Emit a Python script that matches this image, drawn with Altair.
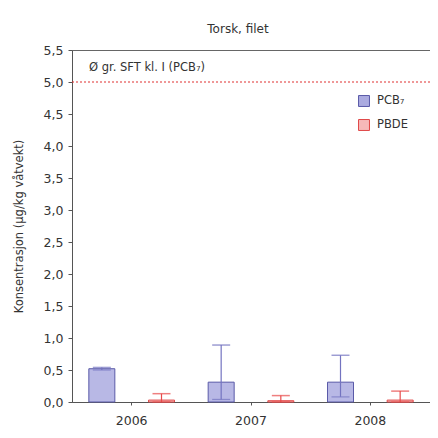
import altair as alt
import pandas as pd

years = ["2006", "2007", "2008"]
series = ["PCB₇", "PBDE"]
pcb = [0.52, 0.31, 0.31]
pcb_lo = [0.50, 0.04, 0.08]
pcb_hi = [0.54, 0.89, 0.73]
pbde = [0.03, 0.02, 0.03]
pbde_lo = [0.00, 0.00, 0.00]
pbde_hi = [0.13, 0.10, 0.17]
y_ticks = [0, 0.5, 1, 1.5, 2, 2.5, 3, 3.5, 4, 4.5, 5, 5.5]
limit = 5.0

rows = []
for i, y in enumerate(years):
    rows.append({"year": y, "series": series[0], "value": pcb[i], "lo": pcb_lo[i], "hi": pcb_hi[i]})
    rows.append({"year": y, "series": series[1], "value": pbde[i], "lo": pbde_lo[i], "hi": pbde_hi[i]})
df = pd.DataFrame(rows)

FONT = "DejaVu Sans"
fill_scale = alt.Scale(domain=series, range=["#ababe0", "#f6b9b9"])
stroke_scale = alt.Scale(domain=series, range=["#5a5aa8", "#e04848"])
err_scale = alt.Scale(domain=series, range=["#7373c0", "#e84a4a"])

legend = alt.Legend(title=None, orient="none", legendX=286, legendY=45, symbolType="square",
                    symbolSize=120, labelFontSize=11.5, labelColor="#333", rowPadding=8,
                    labelFont=FONT, symbolStrokeWidth=1, labelOffset=7)

x_enc = alt.X("year:N", scale=alt.Scale(paddingInner=0, paddingOuter=0),
              axis=alt.Axis(title=None, labelAngle=0, labelFontSize=12.5, labelColor="#333",
                            labelPadding=9, tickSize=3, tickColor="#555", domainColor="#555",
                            labelFont=FONT))
xo_enc = alt.XOffset("series:N", sort=series, scale=alt.Scale(paddingInner=0, paddingOuter=0))
y_scale = alt.Scale(domain=[0, 5.5], nice=False)
y_axis = alt.Axis(values=y_ticks, title="Konsentrasjon (µg/kg våtvekt)",
                  labelExpr="replace(format(datum.value, '.1f'), '.', ',')",
                  labelOverlap=False, grid=False, labelFontSize=12.5, labelColor="#333",
                  tickSize=4, tickColor="#555", domainColor="#555", labelPadding=5,
                  titleFontSize=11.5, titleFontWeight="normal", titleColor="#333",
                  titlePadding=19, labelFont=FONT, titleFont=FONT)

base = alt.Chart(df).encode(x=x_enc, xOffset=xo_enc)

bars = base.mark_bar(width=26, strokeWidth=1, fillOpacity=0.85).encode(
    y=alt.Y("value:Q", scale=y_scale, axis=y_axis),
    fill=alt.Fill("series:N", scale=fill_scale, sort=series, legend=legend),
    stroke=alt.Stroke("series:N", scale=stroke_scale, sort=series, legend=legend),
)

whisk = base.mark_rule(strokeWidth=1.2).encode(
    y=alt.Y("lo:Q", scale=y_scale, axis=y_axis),
    y2="hi:Q",
    color=alt.Color("series:N", scale=err_scale, legend=None),
)
caps_hi = base.mark_tick(thickness=1.5, size=18).encode(
    y=alt.Y("hi:Q", scale=y_scale, axis=y_axis),
    color=alt.Color("series:N", scale=err_scale, legend=None),
)
caps_lo = base.mark_tick(thickness=1.2, size=18).encode(
    y=alt.Y("lo:Q", scale=y_scale, axis=y_axis),
    color=alt.Color("series:N", scale=err_scale, legend=None),
)

ref = alt.Chart(pd.DataFrame({"v": [limit]})).mark_rule(
    color="#e03030", strokeDash=[2, 2], strokeWidth=1.2
).encode(y=alt.Y("v:Q", scale=y_scale, axis=y_axis))

ref_text = alt.Chart(pd.DataFrame({"v": [5.22], "t": ["Ø gr. SFT kl. I (PCB₇)"]})).mark_text(
    align="left", baseline="middle", fontSize=11.5, color="#333", font=FONT
).encode(x=alt.value(17), y=alt.Y("v:Q", scale=y_scale, axis=y_axis), text="t:N")

chart = alt.layer(bars, whisk, caps_hi, caps_lo, ref, ref_text).properties(
    width=358, height=352,
    title=alt.TitleParams("Torsk, filet", fontSize=12, fontWeight="normal", color="#333",
                          anchor="middle", offset=8, dx=-13, font=FONT),
    autosize=alt.AutoSizeParams(type="none"),
    padding={"left": 64, "top": 42, "right": 0, "bottom": 28},
    background="white",
).configure_view(stroke="#666", strokeWidth=1)

chart.save("out.html", embed_options={"renderer": "svg", "actions": False})
